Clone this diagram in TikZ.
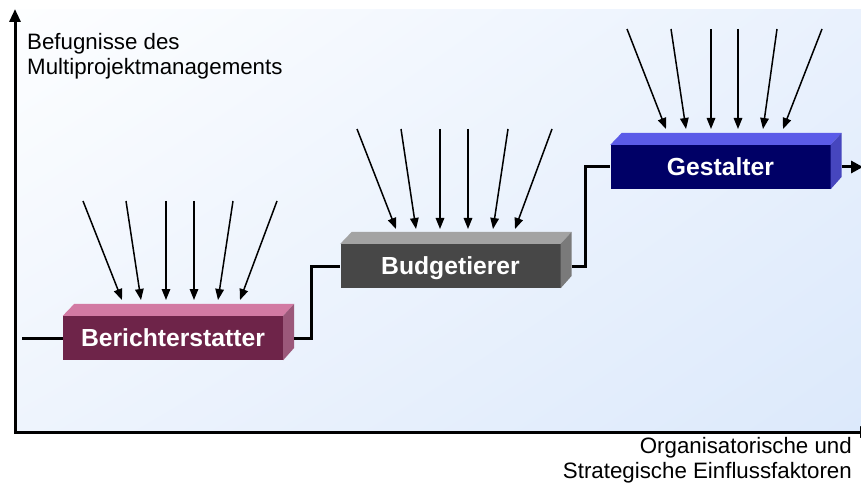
\documentclass[tikz,border=0pt]{standalone}
\usepackage{fontspec}
\setmainfont{Liberation Sans}
\usetikzlibrary{arrows.meta,calc,shadings}
\definecolor{bgA}{RGB}{253,254,255}
\definecolor{bgB}{RGB}{233,241,253}
\definecolor{bgC}{RGB}{238,244,253}
\definecolor{bgD}{RGB}{220,233,251}
\definecolor{mFront}{RGB}{110,36,73}
\definecolor{mTop}{RGB}{210,122,163}
\definecolor{mSide}{RGB}{155,88,122}
\definecolor{gFront}{RGB}{71,71,71}
\definecolor{gTop}{RGB}{163,163,163}
\definecolor{gSide}{RGB}{122,122,122}
\definecolor{bFront}{RGB}{0,0,102}
\definecolor{bTop}{RGB}{91,91,232}
\definecolor{bSide}{RGB}{70,70,190}
\tikzset{
  boxfront/.style={rectangle, inner sep=0pt, minimum width=220pt, minimum height=44pt,
    text=white, font=\bfseries\fontsize{24.7}{28}\selectfont, text depth=0pt},
  conn/.style={line width=3pt, line join=miter},
  inarrow/.style={line width=1.5pt, -{Triangle[length=11pt,width=8.5pt]}},
  axis/.style={line width=3pt, line join=miter},
  axlabel/.style={inner sep=0pt, font=\fontsize{22.3}{25}\selectfont}
}
\newcommand{\cuboid}[3]{%
  \fill[#2] (#1.north west) -- ++(11.5,-12) -- ($(#1.north east)+(11,-12)$) -- (#1.north east) -- cycle;
  \fill[#3] (#1.north east) -- ++(11,-12) -- ++(0,44) -- (#1.south east) -- cycle;
}
\begin{document}
\begin{tikzpicture}[x=1pt,y=-1pt]
\useasboundingbox (0,0) rectangle (861,486);
\fill[white] (0,0) rectangle (861,486);
\shade[upper left=bgA, upper right=bgB, lower left=bgC, lower right=bgD] (15,10) rectangle (861,432);

% axes
\coordinate (ytop) at (15,9);
\coordinate (origin) at (15,432);
\coordinate (xend) at (873,432);
\draw[axis, {Triangle[length=13pt,width=11pt]}-{Triangle[length=13pt,width=11pt]}] (ytop) -- (origin) -- (xend);

\node[axlabel, anchor=west, align=left] (ylab) at (27,56) {Befugnisse des\\Multiprojektmanagements};
\node[axlabel, anchor=east, align=right] (xlab) at (852,460) {Organisatorische und\\Strategische Einflussfaktoren};

% boxes
\node[boxfront, fill=mFront] (b1) at (173,338) {Berichterstatter};
\node[boxfront, fill=gFront] (b2) at (450.5,266) {Budgetierer};
\node[boxfront, fill=bFront] (b3) at (720.5,167) {Gestalter};
\cuboid{b1}{mTop}{mSide}
\cuboid{b2}{gTop}{gSide}
\cuboid{b3}{bTop}{bSide}

% connectors
\coordinate (start) at (22,338);
\coordinate (out) at (863,167);
\draw[conn] (start) -- (b1.west);
\draw[conn] ($(b1.east)+(11,0)$) -- ++(17,0) |- (b2.west);
\draw[conn] ($(b2.east)+(11,0)$) -- ++(14,0) |- (b3.west);
\draw[conn, -{Triangle[length=12pt,width=12pt]}] ($(b3.east)+(11,0)$) -- (out);

% incoming arrows
\foreach \i/\sx/\tx in {1/83/122, 2/126/141, 3/166/166, 4/194/194, 5/233/218, 6/277/240}{
  \coordinate (p\i s) at (\sx,201);
  \coordinate (p\i t) at (\tx,300);
  \draw[inarrow] (p\i s) -- (p\i t);
}
\foreach \i/\sx/\tx in {1/357/396, 2/401/416, 3/440/440, 4/468/468, 5/508/493, 6/552/515}{
  \coordinate (q\i s) at (\sx,129);
  \coordinate (q\i t) at (\tx,229);
  \draw[inarrow] (q\i s) -- (q\i t);
}
\foreach \i/\sx/\tx in {1/627/666, 2/671/686, 3/711/711, 4/738/738, 5/777/763, 6/822/783}{
  \coordinate (r\i s) at (\sx,29);
  \coordinate (r\i t) at (\tx,129);
  \draw[inarrow] (r\i s) -- (r\i t);
}
\end{tikzpicture}
\end{document}
